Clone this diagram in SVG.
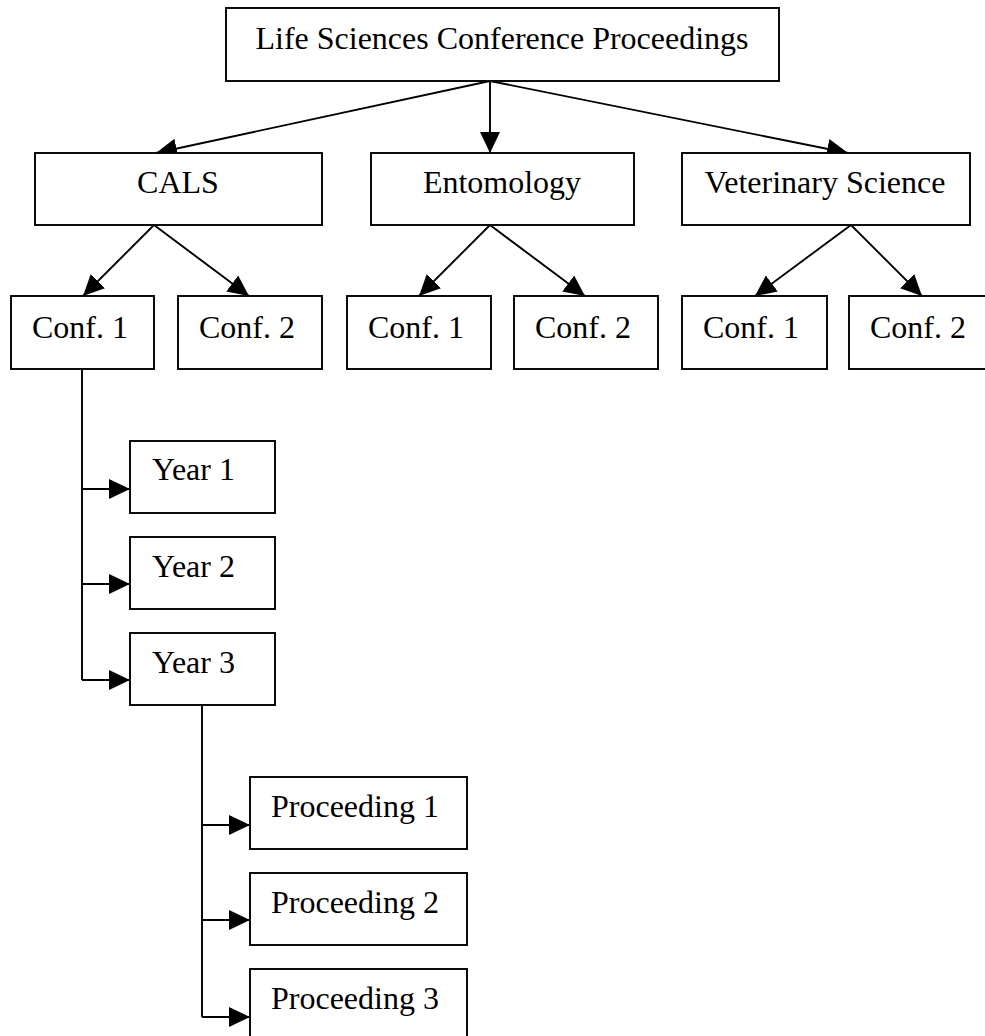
<svg xmlns="http://www.w3.org/2000/svg" width="985" height="1036" viewBox="0 0 985 1036">
<defs>
<marker id="ah" markerUnits="userSpaceOnUse" markerWidth="22" markerHeight="22" refX="21" refY="10" orient="auto" viewBox="0 0 22 20">
<path d="M0,0 L21,10 L0,20 Z" fill="#000"/>
</marker>
<style>
.box{fill:#fff;stroke:#000;stroke-width:1.9}
.t{font-family:"Liberation Serif","Times New Roman",serif;font-size:32px;fill:#000}
.m{text-anchor:middle}
.c{fill:none;stroke:#000;stroke-width:1.9}
</style>
</defs>
<rect width="985" height="1036" fill="#fff"/>
<g id="connectors">
<line class="c" x1="490" y1="81" x2="156" y2="153" marker-end="url(#ah)"/>
<line class="c" x1="490" y1="81" x2="490" y2="153" marker-end="url(#ah)"/>
<line class="c" x1="490" y1="81" x2="848" y2="153" marker-end="url(#ah)"/>
<line class="c" x1="154" y1="225" x2="83" y2="296" marker-end="url(#ah)"/>
<line class="c" x1="154" y1="225" x2="249" y2="296" marker-end="url(#ah)"/>
<line class="c" x1="490" y1="225" x2="419" y2="296" marker-end="url(#ah)"/>
<line class="c" x1="490" y1="225" x2="585" y2="296" marker-end="url(#ah)"/>
<line class="c" x1="851" y1="225" x2="755" y2="296" marker-end="url(#ah)"/>
<line class="c" x1="851" y1="225" x2="922" y2="296" marker-end="url(#ah)"/>
<polyline class="c" points="82,369 82,680"/>
<line class="c" x1="82" y1="489" x2="130" y2="489" marker-end="url(#ah)"/>
<line class="c" x1="82" y1="584" x2="130" y2="584" marker-end="url(#ah)"/>
<line class="c" x1="82" y1="680" x2="130" y2="680" marker-end="url(#ah)"/>
<polyline class="c" points="202,705 202,1017"/>
<line class="c" x1="202" y1="825" x2="250" y2="825" marker-end="url(#ah)"/>
<line class="c" x1="202" y1="920" x2="250" y2="920" marker-end="url(#ah)"/>
<line class="c" x1="202" y1="1017" x2="250" y2="1017" marker-end="url(#ah)"/>
</g>
<g id="root"><rect class="box" x="226" y="8" width="553" height="73"/><text class="t m" x="502" y="49">Life Sciences Conference Proceedings</text></g>
<g id="cals"><rect class="box" x="35" y="153" width="287" height="72"/><text class="t m" x="178" y="193">CALS</text></g>
<g id="entomology"><rect class="box" x="371" y="153" width="263" height="72"/><text class="t m" x="502" y="193">Entomology</text></g>
<g id="vet"><rect class="box" x="682" y="153" width="288" height="72"/><text class="t m" x="825" y="193">Veterinary Science</text></g>
<g id="cals-conf1"><rect class="box" x="11" y="296" width="143" height="73"/><text class="t" x="32" y="338">Conf. 1</text></g>
<g id="cals-conf2"><rect class="box" x="178" y="296" width="144" height="73"/><text class="t" x="199" y="338">Conf. 2</text></g>
<g id="ent-conf1"><rect class="box" x="347" y="296" width="144" height="73"/><text class="t" x="368" y="338">Conf. 1</text></g>
<g id="ent-conf2"><rect class="box" x="514" y="296" width="144" height="73"/><text class="t" x="535" y="338">Conf. 2</text></g>
<g id="vet-conf1"><rect class="box" x="682" y="296" width="145" height="73"/><text class="t" x="703" y="338">Conf. 1</text></g>
<g id="vet-conf2"><rect class="box" x="849" y="296" width="145" height="73"/><text class="t" x="870" y="338">Conf. 2</text></g>
<g id="year1"><rect class="box" x="130" y="441" width="145" height="72"/><text class="t" x="152" y="480">Year 1</text></g>
<g id="year2"><rect class="box" x="130" y="537" width="145" height="72"/><text class="t" x="152" y="577">Year 2</text></g>
<g id="year3"><rect class="box" x="130" y="633" width="145" height="72"/><text class="t" x="152" y="673">Year 3</text></g>
<g id="proc1"><rect class="box" x="250" y="777" width="217" height="72"/><text class="t" x="271" y="817">Proceeding 1</text></g>
<g id="proc2"><rect class="box" x="250" y="873" width="217" height="72"/><text class="t" x="271" y="913">Proceeding 2</text></g>
<g id="proc3"><rect class="box" x="250" y="969" width="217" height="72"/><text class="t" x="271" y="1009">Proceeding 3</text></g>
</svg>
